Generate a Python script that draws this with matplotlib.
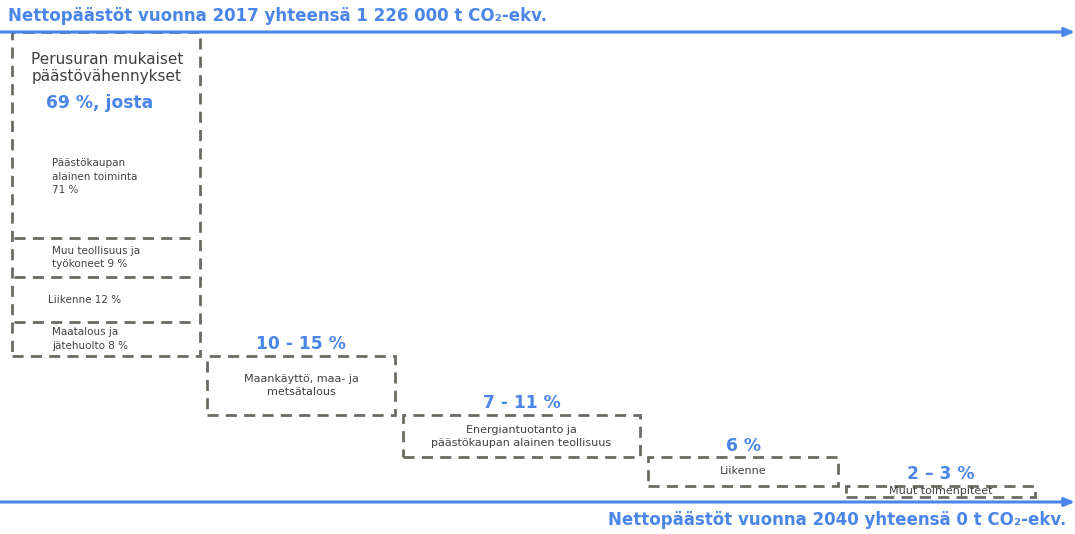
import numpy as np
import matplotlib.pyplot as plt
from matplotlib.patches import Rectangle

# main reduction steps (share of 2017 net emissions, %)
step_labels = ["Perusuran mukaiset\npäästövähennykset",
               "Maankäyttö, maa- ja\nmetsätalous",
               "Energiantuotanto ja\npäästökaupan alainen teollisuus",
               "Liikenne",
               "Muut toimenpiteet"]
share_labels = ["69 %, josta", "10 - 15 %", "7 - 11 %", "6 %", "2 – 3 %"]
share_mid = [69, 12.5, 9, 6, 2.5]

# breakdown of the baseline box
sub_labels = ["Päästökaupan\nalainen toiminta\n71 %",
              "Muu teollisuus ja\ntyökoneet 9 %",
              "Liikenne 12 %",
              "Maatalous ja\njätehuolto 8 %"]
sub_share = [71, 9, 12, 8]

top_text = "Nettopäästöt vuonna 2017 yhteensä 1 226 000 t CO₂-ekv."
bottom_text = "Nettopäästöt vuonna 2040 yhteensä 0 t CO₂-ekv."

# layout (pixels along x, fractions for the sub boxes)
box_x = [12, 207, 403, 648, 846]
box_w = [188, 188, 237, 190, 189]
sub_frac = [0.635, 0.12, 0.14, 0.105]
sub_x = [52, 52, 48, 52]

BLUE = "#4a86e8"
GRAY = "#6b6b63"
TXT = "#404040"
dash = (0, (4, 2.6))

fig = plt.figure(figsize=(10.75, 5.34), dpi=100)
ax = fig.add_axes([0, 0, 1, 1])
px = 4.7  # pixels per percent
ax.set_xlim(0, 1075)
ax.set_ylim(-32 / px, 100 + 32 / px)
ax.axis("off")

# arrows
for yv in (100, 0):
    ax.annotate("", xy=(1075, yv), xytext=(0, yv),
                arrowprops=dict(arrowstyle="-|>,head_length=0.6,head_width=0.25",
                                color=BLUE, lw=2.2, shrinkA=0, shrinkB=0), zorder=5)
ax.text(8, 100 + 3.4, top_text, color=BLUE, fontsize=12, fontweight="bold",
        ha="left", va="center")
ax.text(1066, -3.9, bottom_text, color=BLUE, fontsize=12, fontweight="bold",
        ha="right", va="center")

tops = 100 - np.concatenate([[0], np.cumsum(share_mid)[:-1]])
for i, (x, w, top, h) in enumerate(zip(box_x, box_w, tops, share_mid)):
    ax.add_patch(Rectangle((x, top - h), w, h, fill=False, ec=GRAY, lw=2,
                           ls=dash, zorder=3))
    if i == 0:
        continue
    ax.text(x + w / 2, top + 0.6, share_labels[i], color=BLUE, fontsize=12.3,
            fontweight="bold", ha="center", va="bottom")
    ax.text(x + w / 2, top - h / 2, step_labels[i], color=TXT, fontsize=8,
            ha="center", va="center", linespacing=1.4)

# first box: heading and breakdown
x0, w0, h0 = box_x[0], box_w[0], share_mid[0]
ax.text(x0 + w0 / 2 + 1, 100 - 7.7, step_labels[0], color=TXT, fontsize=11,
        ha="center", va="center", linespacing=1.2)
ax.text(x0 + w0 / 2 - 6, 100 - 15.2, share_labels[0], color=BLUE, fontsize=12.3,
        fontweight="bold", ha="center", va="center")

edges = 100 - h0 * np.concatenate([[0], np.cumsum(sub_frac)])
for j, lab in enumerate(sub_labels):
    if j > 0:
        ax.plot([x0 + 2, x0 + w0 - 3], [edges[j], edges[j]], color=GRAY, lw=2,
                ls=dash, zorder=3)
    if j == 0:
        yc = edges[0] - 30.8
    else:
        yc = (edges[j] + edges[j + 1]) / 2
    ax.text(sub_x[j], yc, lab, color=TXT, fontsize=7.5, ha="left", va="center",
            linespacing=1.45)

fig.savefig("out.png", dpi=100)
